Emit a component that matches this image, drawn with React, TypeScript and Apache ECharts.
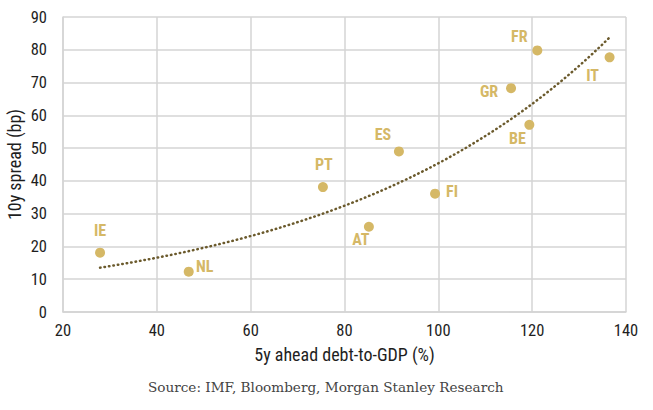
import React, { useEffect, useRef } from "react";
import * as echarts from "echarts";

const countries = ["IE", "NL", "PT", "ES", "AT", "FI", "GR", "FR", "BE", "IT"];
const debtToGdp = [27.9, 46.8, 75.4, 91.6, 85.2, 99.3, 115.5, 121.1, 119.4, 136.5];
const spread10y = [18.1, 12.3, 38.1, 49.0, 26.0, 36.1, 68.3, 79.8, 57.1, 77.7];
const xTicks = { min: 20, max: 140, interval: 20 };
const yTicks = { min: 0, max: 90, interval: 10 };

// label offsets (style only)
const labelOffsets: Record<string, [number, number]> = {
  IE: [0, -22],
  NL: [16, -5],
  PT: [1, -23],
  ES: [-16, -17],
  AT: [-8, 13],
  FI: [17, -2],
  GR: [-22, 3],
  FR: [-18, -14],
  BE: [-12, 14],
  IT: [-17, 18],
};

// Exponential trendline fitted (least squares on ln y) to the data
function expFit(xs: number[], ys: number[]) {
  const n = xs.length;
  const ly = ys.map((v) => Math.log(v));
  const mx = xs.reduce((a, b) => a + b, 0) / n;
  const my = ly.reduce((a, b) => a + b, 0) / n;
  let sxy = 0, sxx = 0;
  for (let i = 0; i < n; i++) {
    sxy += (xs[i] - mx) * (ly[i] - my);
    sxx += (xs[i] - mx) * (xs[i] - mx);
  }
  const b = sxy / sxx;
  const a = Math.exp(my - b * mx);
  return { a, b };
}

const FONT = "'Roboto Condensed', 'Liberation Sans Narrow', 'DejaVu Sans Condensed', Roboto, sans-serif";
const GOLD = "#d5b866";
const TXT = "#1e1e1e";

export default function App() {
  const ref = useRef<HTMLDivElement>(null);
  useEffect(() => {
    if (!ref.current) return;
    const chart = echarts.init(ref.current, undefined, { renderer: "svg" });
    const { a, b } = expFit(debtToGdp, spread10y);
    const x0 = Math.min(...debtToGdp);
    const x1 = Math.max(...debtToGdp);
    const trend: number[][] = [];
    const steps = 60;
    for (let i = 0; i <= steps; i++) {
      const x = x0 + ((x1 - x0) * i) / steps;
      trend.push([x, a * Math.exp(b * x)]);
    }
    const points = countries.map((c, i) => ({
      name: c,
      value: [debtToGdp[i], spread10y[i]],
      label: { offset: labelOffsets[c] },
    }));
    chart.setOption({
      animation: false,
      backgroundColor: "#ffffff",
      grid: {
        left: 63,
        right: 27,
        top: 17,
        bottom: 98,
        containLabel: false,
        outerBoundsMode: "none",
      },
      xAxis: {
        type: "value",
        min: xTicks.min,
        max: xTicks.max,
        interval: xTicks.interval,
        name: "5y ahead debt-to-GDP (%)",
        nameLocation: "middle",
        nameGap: 33,
        nameMoveOverlap: false,
        nameTextStyle: { fontFamily: FONT, fontSize: 18, color: TXT },
        axisLine: { show: true, lineStyle: { color: "#d4d4d4", width: 1.5 } },
        axisTick: { show: false },
        axisLabel: { fontFamily: FONT, fontSize: 16.5, color: TXT, margin: 10 },
        splitLine: { show: true, lineStyle: { color: "#d4d4d4", width: 1.5 } },
      },
      yAxis: {
        type: "value",
        min: yTicks.min,
        max: yTicks.max,
        interval: yTicks.interval,
        name: "10y spread (bp)",
        nameLocation: "middle",
        nameGap: 40,
        nameMoveOverlap: false,
        nameTextStyle: { fontFamily: FONT, fontSize: 18, color: TXT },
        axisLine: { show: true, lineStyle: { color: "#d4d4d4", width: 1.5 } },
        axisTick: { show: false },
        axisLabel: { fontFamily: FONT, fontSize: 16.5, color: TXT, margin: 16 },
        splitLine: { show: true, lineStyle: { color: "#d4d4d4", width: 1.5 } },
      },
      series: [
        {
          type: "line",
          data: trend,
          showSymbol: false,
          symbol: "none",
          smooth: false,
          lineStyle: { color: "#6b5a2c", width: 2.5, type: [0.5, 4], cap: "round" },
          z: 2,
          silent: true,
        },
        {
          type: "scatter",
          data: points,
          symbolSize: 10,
          itemStyle: { color: GOLD, opacity: 1 },
          z: 3,
          label: {
            show: true,
            position: "inside",
            formatter: "{b}",
            color: GOLD,
            fontFamily: FONT,
            fontSize: 16,
            fontWeight: "bold",
            align: "center",
            verticalAlign: "middle",
          },
        },
      ],
      graphic: [
        {
          type: "text",
          left: 148,
          top: 380,
          style: {
            text: "Source: IMF, Bloomberg, Morgan Stanley Research",
            font: "13.6px 'DejaVu Serif', 'Noto Serif', serif",
            fill: "#444444",
          },
        },
      ],
    });
    return () => chart.dispose();
  }, []);
  return (
    <div
      ref={ref}
      style={{ position: "fixed", left: 0, top: 0, width: 653, height: 410 }}
    />
  );
}
